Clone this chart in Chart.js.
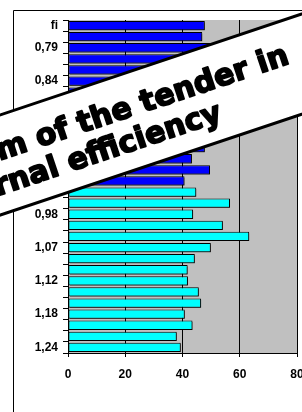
<!DOCTYPE html>
<html>
<head>
<meta charset="utf-8">
<script src="https://cdn.jsdelivr.net/npm/chart.js@4/dist/chart.umd.min.js"></script>
<style>
  body { margin: 0; background: #fff; }
  canvas { display: block; }
</style>
</head>
<body>
<canvas id="myChart" width="302" height="412"></canvas>
<script>
// categories (fi classes), top to bottom
var labels = ["fi", "0,77", "0,79", "0,81", "0,83", "0,84", "0,85", "0,86", "0,87", "0,88",
              "0,89", "0,90", "0,92", "0,93", "0,94", "0,95", "0,97", "0,98", "1,01", "1,04",
              "1,07", "1,09", "1,10", "1,12", "1,14", "1,16", "1,18", "1,20", "1,22", "1,24"];

// bar lengths
var values = [47.8, 46.9, 55, 52, 50, 48, 46, 50, 47, 45,
              48, 47.8, 43.3, 49.6, 40.7, 44.8, 56.6, 43.7, 54.1, 63.3,
              49.9, 44.3, 41.8, 41.9, 45.7, 46.5, 40.8, 43.5, 38.0, 39.4];

// first rows blue, rest cyan
var blue_count = 15;
var xticks = [0, 20, 40, 60, 80];

var title_lines = ["Diagram of the tender in", "internal efficiency"];

var colors = [];
for (var i in values) {
	colors.push(i < blue_count ? "#0000FF" : "#00FFFF");
}

// frame, gray plot and bar shadows
var backdrop = {
	id: "backdrop",
	beforeDraw: function(chart) {
		var c = chart.ctx, a = chart.chartArea;
		c.save();
		c.fillStyle = "#fff";
		c.fillRect(0, 0, chart.width, chart.height);
		c.strokeStyle = "#000";
		c.lineWidth = 1;
		c.beginPath();
		c.moveTo(13.5, chart.height);
		c.lineTo(13.5, 10.5);
		c.lineTo(chart.width, 10.5);
		c.stroke();
		c.fillStyle = "#C0C0C0";
		c.fillRect(a.left, a.top, a.right - a.left, a.bottom - a.top);
		c.restore();
	},
	beforeDatasetsDraw: function(chart) {
		var c = chart.ctx;
		c.save();
		c.shadowColor = "rgba(0,0,0,0.5)";
		c.shadowOffsetX = 1.5;
		c.shadowOffsetY = 1.5;
		c.shadowBlur = 0;
	},
	afterDatasetsDraw: function(chart) {
		chart.ctx.restore();
	}
};

// slanted banner on top
var banner = {
	id: "banner",
	afterDraw: function(chart) {
		var c = chart.ctx;
		c.save();
		c.translate(0, 115);
		c.rotate(-18.5 * Math.PI / 180);
		c.fillStyle = "#fff";
		c.fillRect(-300, 0, 800, 95);
		c.strokeStyle = "#000";
		c.lineWidth = 3;
		c.strokeRect(-300, 0, 800, 95);
		c.fillStyle = "#000";
		c.strokeStyle = "#000";
		c.lineWidth = 1.8;
		c.lineJoin = "round";
		c.font = "bold 30px 'DejaVu Sans'";
		c.textAlign = "right";
		c.textBaseline = "alphabetic";
		c.fillText(title_lines[0], 292, 43);
		c.strokeText(title_lines[0], 292, 43);
		c.fillText(title_lines[1], 210, 76);
		c.strokeText(title_lines[1], 210, 76);
		c.restore();
	}
};

var ctx = document.getElementById("myChart").getContext("2d");
var chart = new Chart(ctx, {
	type: "bar",
	data: {
		labels: labels,
		datasets: [{
			data: values,
			backgroundColor: colors,
			borderColor: "#000",
			borderWidth: 1,
			borderSkipped: false,
			categoryPercentage: 0.84,
			barPercentage: 1
		}]
	},
	options: {
		indexAxis: "y",
		responsive: false,
		animation: false,
		devicePixelRatio: 1,
		layout: {padding: {top: 20, right: 5, left: 0, bottom: 0}},
		plugins: {legend: {display: false}, tooltip: {enabled: false}},
		scales: {
			x: {
				min: 0, max: 80,
				afterBuildTicks: function(s) { s.ticks = xticks.map(function(v) { return {value: v}; }); },
				afterFit: function(s) { s.height = 59; s.paddingLeft = 0; s.paddingRight = 0; },
				grid: {color: "#000", lineWidth: 1, tickLength: 4},
				border: {color: "#000"},
				ticks: {color: "#000", padding: 10, font: {family: "'Liberation Sans'", size: 12, weight: "bold"}}
			},
			y: {
				afterFit: function(s) { s.width = 68; },
				grid: {drawOnChartArea: false, color: "#000", tickLength: 5, offset: true},
				border: {color: "#000"},
				ticks: {
					color: "#000", padding: 5, autoSkip: false,
					font: {family: "'Liberation Sans'", size: 12, weight: "bold"},
					callback: function(v, i) { return (i === 0 || i % 3 === 2) ? labels[i] : ""; }
				}
			}
		}
	},
	plugins: [backdrop, banner]
});
</script>
</body>
</html>
